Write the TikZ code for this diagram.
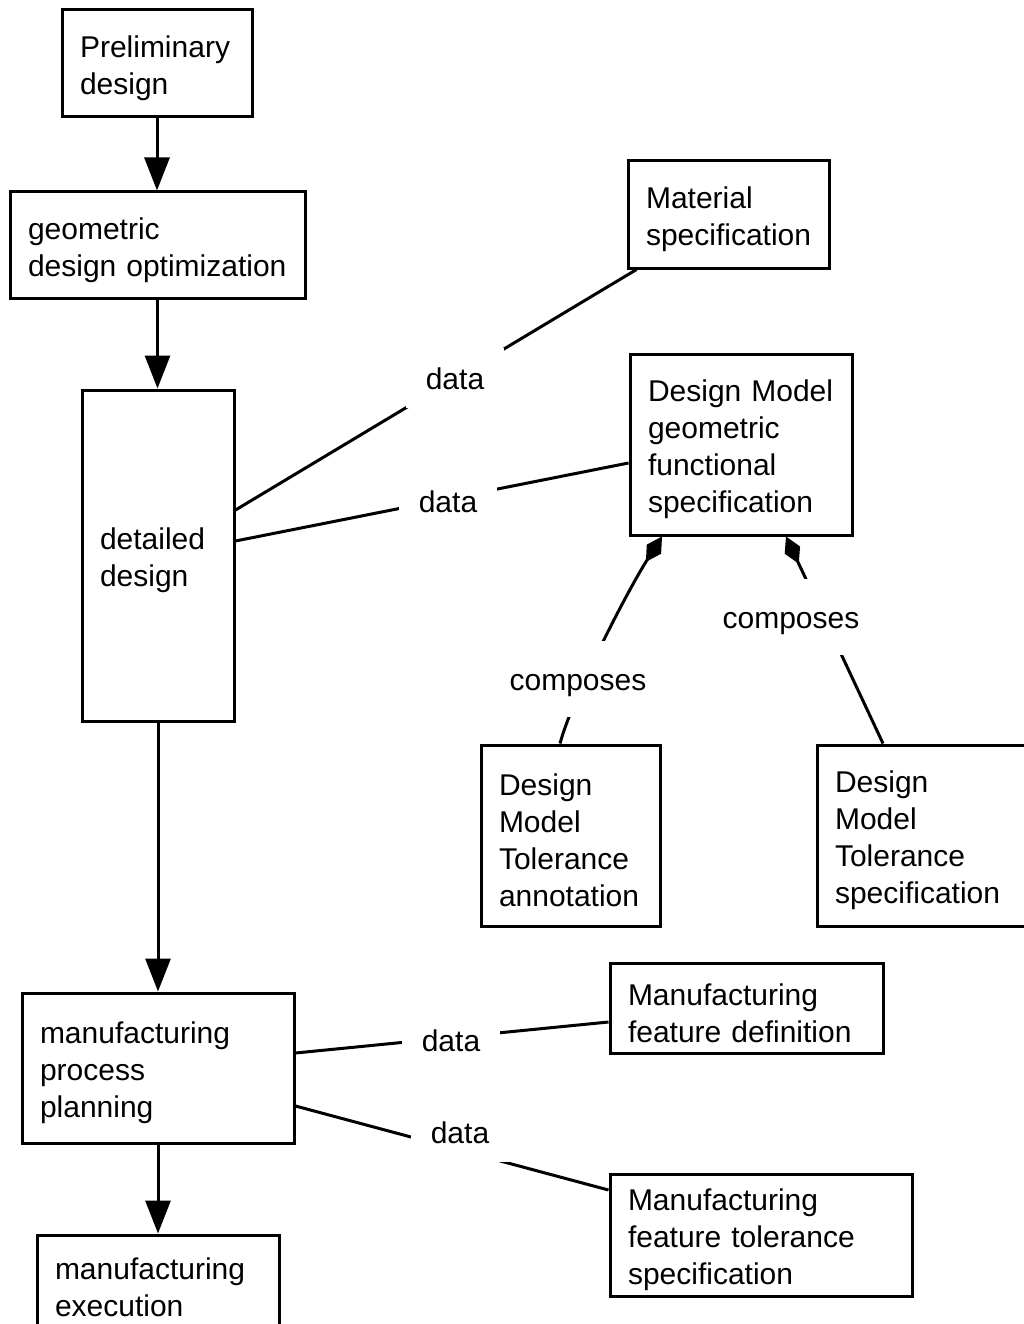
\documentclass[tikz,border=0pt]{standalone}
\usepackage{fontspec}
\setmainfont{Liberation Sans}
\usetikzlibrary{arrows.meta}

\tikzset{
  box/.style={draw,line width=3pt,inner xsep=18pt,inner ysep=0pt,align=left,
    execute at begin node={\rule{0pt}{32pt}}},
  link/.style={line width=3pt},
  flow/.style={link,-{Triangle[length=33pt,width=25pt]}},
  part/.style={link,-{Diamond[length=30pt,width=17pt]}},
  tag/.style={fill=white,inner sep=0pt,text height=22pt,text depth=0pt,
    minimum width=98pt,minimum height=60pt}
}

\begin{document}
\begin{tikzpicture}[x=1pt,y=-1pt,font=\fontsize{30}{37}\selectfont]
\useasboundingbox (0,0) rectangle (1023,1324);

% left column
\node[box,text width=154pt,minimum height=107pt] (pre) at (157,63.5) {Preliminary\\design};
\node[box,text width=259pt,minimum height=106pt] (geo) at (157.5,245) {geometric\\design optimization};
\node[box,text width=116pt,minimum height=331pt] (det) at (158,555.5) {detailed\\design};
\node[box,text width=236pt,minimum height=150pt] (mpp) at (158,1068) {manufacturing\\process\\planning};
\node[box,text width=206pt,minimum height=94pt] (exe) at (158,1282) {manufacturing\\execution};

% right side
\node[box,text width=165pt,minimum height=107pt] (mat) at (728.5,214.5) {Material\\specification};
\node[box,text width=186pt,minimum height=181pt] (gfs) at (741,444.5) {Design Model\\geometric\\functional\\specification};
\node[box,text width=143pt,minimum height=181pt] (tan) at (570.5,835.5) {Design\\Model\\Tolerance\\annotation};
\node[box,text width=174pt,minimum height=181pt] (tsp) at (922,835.5) {Design\\Model\\Tolerance\\specification};
\node[box,text width=237pt,minimum height=90pt] (mfd) at (746.5,1008) {Manufacturing\\feature definition};
\node[box,text width=266pt,minimum height=122pt] (mft) at (761,1235) {Manufacturing\\feature tolerance\\specification};

% process flow
\draw[flow] (pre) -- (pre |- geo.north);
\draw[flow] (geo) -- (geo.south |- det.north);
\draw[flow] (det) -- (det |- mpp.north);
\draw[flow] (mpp) -- (mpp |- exe.north);

% data links
\draw[link] ([yshift=45.5pt]det.east) -- ([xshift=10pt]mat.south west);
\draw[link] ([yshift=14.5pt]det.east) -- ([yshift=-18.5pt]gfs.west);
\draw[link] ([yshift=15pt]mpp.east) -- ([yshift=-14pt]mfd.west);
\draw[link] ([yshift=-38pt]mpp.east) -- ([yshift=45pt]mft.west);

% composition
\draw[part] ([xshift=-10.5pt]tan.north) .. controls +(12,-45) and +(-35,55) .. ([xshift=-79pt]gfs.south);
\draw[part] ([xshift=-39pt]tsp.north) -- ([xshift=45pt]gfs.south);

% labels
\node[tag] (d1) at (455,378) {data};
\node[tag] (d2) at (448,501) {data};
\node[tag] (d3) at (451,1040) {data};
\node[tag] (d4) at (460,1132) {data};
\node[tag,minimum height=76pt] (c1) at (578,679) {composes};
\node[tag,minimum height=76pt] (c2) at (791,617) {composes};
\end{tikzpicture}
\end{document}
